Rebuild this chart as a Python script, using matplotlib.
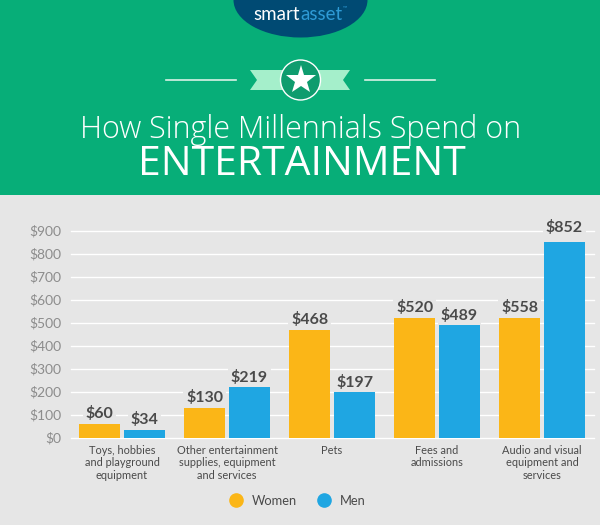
import matplotlib
matplotlib.use('Agg')
import matplotlib.pyplot as plt
import numpy as np
from matplotlib.patches import Ellipse, Circle, Polygon, Rectangle

plt.rcParams['font.family'] = ['Lato', 'DejaVu Sans']

# Dados
categorias = ['Toys, hobbies\nand playground\nequipment',
              'Other entertainment\nsupplies, equipment\nand services',
              'Pets', 'Fees and\nadmissions',
              'Audio and visual\nequipment and\nservices']
women_alturas = [60, 130, 468, 520, 520]
men_alturas = [34, 219, 197, 489, 852]
women_rotulos = ['$60', '$130', '$468', '$520', '$558']
men_rotulos = ['$34', '$219', '$197', '$489', '$852']
ticks_y = [0, 100, 200, 300, 400, 500, 600, 700, 800, 900]

VERDE = '#07AE78'
FUNDO = '#E6E6E6'
AMARELO = '#FBB617'
AZUL = '#1FA6E2'
TEXTO = '#4A4A4A'

W, H = 600, 525
fig = plt.figure(figsize=(W / 100, H / 100), dpi=100, facecolor=FUNDO)

# Cabeçalho, em pixels
bg = fig.add_axes([0, 0, 1, 1])
bg.set_xlim(0, W)
bg.set_ylim(H, 0)
bg.axis('off')
bg.add_patch(Rectangle((0, 0), W, 195, color=VERDE, lw=0))
bg.add_patch(Ellipse((300.5, 0), 134, 75, color='#004A73', lw=0))
bg.text(300, 14, 'smart', color='white', fontsize=13.5, ha='right', va='center')
bg.text(300, 14, 'asset', color='#2E9BD6', fontsize=13.5, ha='left', va='center')
bg.text(343, 8, '™', color='#2E9BD6', fontsize=4, ha='left', va='center')
bg.plot([166, 236], [80, 80], color='#D9F2E6', lw=1.2)
bg.plot([365, 435], [80, 80], color='#D9F2E6', lw=1.2)
bg.add_patch(Polygon([(250, 70), (290, 70), (290, 90), (250, 90), (257, 80)],
                     color='#A5EFCB', lw=0))
bg.add_patch(Polygon([(350, 70), (310, 70), (310, 90), (350, 90), (343, 80)],
                     color='#A5EFCB', lw=0))
bg.add_patch(Circle((300.5, 80), 20, facecolor='#0F9C6E', edgecolor='white', lw=1))
bg.plot([300.5], [79.5], marker='*', color='white', ms=22, mew=0)
bg.text(301, 130, 'How Single Millennials Spend on', color='white', fontsize=22,
        family='Open Sans', fontweight='light', ha='center', va='center')
bg.text(302, 165, 'ENTERTAINMENT', color='white', fontsize=29.4,
        family='Open Sans', ha='center', va='center')

# Gráfico
x0, x1, y_base, y_topo = 71, 594, 437.5, 230.5
ax = fig.add_axes([x0 / W, 1 - y_base / H, (x1 - x0) / W, (y_base - y_topo) / H])
ax.set_facecolor('none')
ax.set_xlim(-0.486, 4.495)
ax.set_ylim(0, 900)
for s in ax.spines.values():
    s.set_visible(False)

x = np.arange(len(categorias))
larg = 0.39
desl = 0.214
ax.bar(x - desl, women_alturas, larg, color=AMARELO, zorder=2)
ax.bar(x + desl, men_alturas, larg, color=AZUL, zorder=2)

ax.set_yticks(ticks_y)
ax.set_yticklabels([f'${v}' for v in ticks_y], color='#8C8C8C', fontsize=10)
ax.grid(axis='y', color='white', lw=1, zorder=0)
ax.set_axisbelow(True)
ax.tick_params(axis='y', length=0, pad=7)
ax.tick_params(axis='x', length=0, pad=5.5)
ax.set_xticks(x)
ax.set_xticklabels(categorias, color=TEXTO, fontsize=7.9, linespacing=1.15, va='top')
for g in ax.get_ygridlines():
    g.set_clip_on(False)

# Rótulos das barras
for xi, h, r in zip(x - desl, women_alturas, women_rotulos):
    ax.text(xi, h + 11, r, ha='center', va='bottom', color=TEXTO, fontsize=11.5,
            fontweight='bold', zorder=3,
            bbox=dict(facecolor=FUNDO, edgecolor='none', pad=2))
for xi, h, r in zip(x + desl, men_alturas, men_rotulos):
    ax.text(xi, h + (28 if r == '$852' else 11), r, ha='center', va='bottom', color=TEXTO,
            fontsize=11.5, fontweight='bold', zorder=3,
            bbox=dict(facecolor=FUNDO, edgecolor='none', pad=2))

# Legenda
ax.legend(loc='center', bbox_to_anchor=(0.433, -0.305), ncol=2, frameon=False,
          handlelength=1, handletextpad=0.68, columnspacing=1.66, fontsize=9.3, labelcolor=TEXTO,
          handles=[plt.Line2D([], [], ls='', marker='o', ms=9.5, color=AMARELO, label='Women'),
                   plt.Line2D([], [], ls='', marker='o', ms=9.5, color=AZUL, label='Men')])

fig.savefig('out.png', dpi=100, facecolor=FUNDO)
